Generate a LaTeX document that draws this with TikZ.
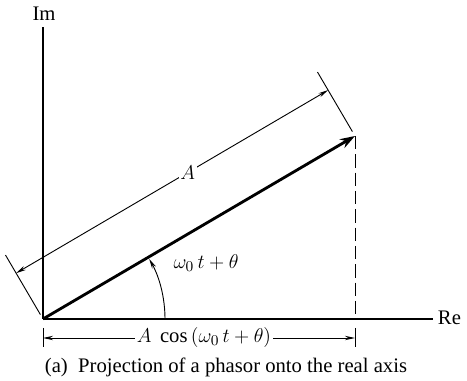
\documentclass[tikz,border=0pt]{standalone}
\usepackage{amsmath,amssymb}
\usepackage{fontspec}
\setmainfont{Liberation Serif}
\usepackage{tikz}
\usetikzlibrary{positioning,calc,arrows.meta}

\begin{document}
\begin{tikzpicture}[x=0.6pt, y=0.6pt, >={Stealth[length=6pt, width=2.6pt]}, axis/.style = {line width=0.7pt}, dim/.style = {line width=0.55pt}, lbl/.style = {inner sep=1pt, font=\fontsize{12.4}{14}\selectfont}]

\useasboundingbox (0,0) rectangle (467,381);

% axes
\coordinate (O) at (43,62);
\coordinate (imtop) at (43,354);
\coordinate (reend) at (433,62);
\node[lbl] (im) at (44,367) {Im};
\node[lbl, anchor=west] (re) at (436,63) {Re};
\draw[axis] (O) -- (imtop);
\draw[axis] (O) -- (reend);

% phasor and its projection
\coordinate (P) at (355,245);
\coordinate (Pre) at (355,62);
\draw[line width=1.7pt, ->, >={Stealth[length=9pt, width=6pt]}] (O) -- (P);
\draw[dim, dash pattern=on 8pt off 3pt] (P) -- (Pre);

% angle
\draw[dim, ->] ($(O)+(122,0)$) arc[start angle=0, end angle=29.5, radius=122];
\node[lbl] (ang) at (206,118) {$\omega_0\,t + \theta$};

% magnitude A
\coordinate (e1a) at ($(O)!0.014!90:(P)$);
\coordinate (e1b) at ($(O)!0.205!90:(P)$);
\coordinate (e2a) at ($(P)!0.014!-90:(O)$);
\coordinate (e2b) at ($(P)!0.205!-90:(O)$);
\coordinate (d1) at ($(O)!0.147!90:(P)$);
\coordinate (d2) at ($(P)!0.147!-90:(O)$);
\draw[dim] (e1a) -- (e1b);
\draw[dim] (e2a) -- (e2b);
\draw[dim, <->] (d1) -- node[lbl, fill=white, pos=0.55] (amag) {$A$} (d2);

% projection length
\coordinate (t1a) at (43,53);
\coordinate (t1b) at (43,34);
\coordinate (t2a) at (355,53);
\coordinate (t2b) at (355,34);
\coordinate (l1) at (43,43);
\coordinate (l2) at (355,43);
\draw[dim] (t1a) -- (t1b);
\draw[dim] (t2a) -- (t2b);
\node[lbl] (proj) at (204,43) {$A\ \cos\,(\omega_0\,t + \theta)$};
\draw[dim, ->] (proj.west) -- (l1);
\draw[dim, ->] (proj.east) -- (l2);

\node[lbl] (cap) at (226,14) {(a)\ \ Projection of a phasor onto the real axis};
\end{tikzpicture}
\end{document}
